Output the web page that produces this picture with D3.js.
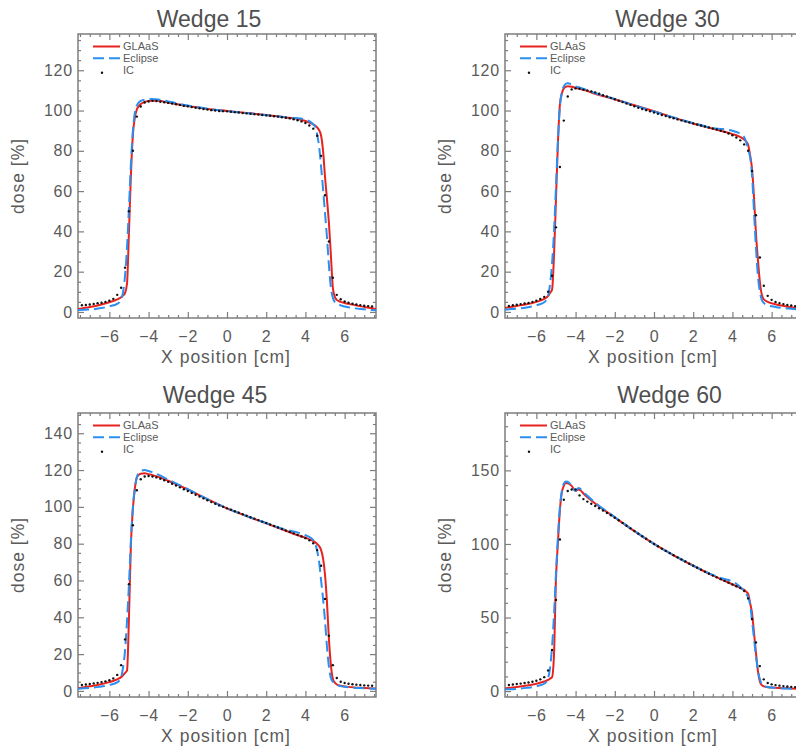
<!DOCTYPE html>
<html><head><meta charset="utf-8">
<script src="https://cdn.jsdelivr.net/npm/d3@7"></script>
<style>body{margin:0;background:#fff}svg{display:block}</style>
</head><body><svg id="c" width="796" height="749"></svg>
<script>
// ---- data ----
const curveX = [-7.6,-7,-6.5,-6,-5.6,-5.4,-5.3,-5.2,-5.1,-5.0,-4.9,-4.8,-4.7,-4.6,-4.5,-4.4,-4.2,-4.0,-3.85,-3.5,-3,-2,-1,0,1,2,3,3.5,4,4.3,4.5,4.6,4.7,4.8,4.9,5.0,5.1,5.2,5.3,5.4,5.5,5.6,5.8,6.2,7,7.6];

const glaas15   = [1.5,2.5,3.5,4.8,6.2,7.3,8.2,9.5,14,40,68,88,96.5,100.5,102.2,103.2,104.3,104.8,104.9,104.8,104,102.2,100.8,99.8,98.8,97.8,96.6,96,94.8,93.6,92.5,91.6,90.2,87.5,80,67,56,44,28,12,7.5,6,5,4,2.5,1.5];
const eclipse15 = [1,1.2,1.8,2.8,4,6,10,18,32,52,74,90,99,102.5,104,104.8,105.3,105.6,105.7,105.5,104.5,102.5,100.9,99.7,98.7,97.7,96.7,96.3,95.5,94,92,88,82,72,61,49,37,23,12,7,5,4.2,3.3,2.3,1.3,0.8];

const glaas30   = [2,3,3.8,5,6.5,8,9.5,11,28,56,84,103,108.5,111,111.8,112,111.8,111.3,110.9,110,108.3,105.6,102.6,99.7,96.5,93.6,91,89.7,88.3,87.3,86.3,85.6,84.6,83,78,71,57,39,26,15,8.5,6.3,5,3.8,2.3,1.5];
const eclipse30 = [1.2,1.6,2.2,3.3,4.8,8,14,24,40,62,85,102,109,112,113.3,113.6,113,112,111.6,110.5,108.7,105.7,102.6,99.5,96.6,93.8,91.3,90.8,90,89,88,86.8,84.5,81,77,68,50,32,18,10,6,4.5,3.3,2.5,1.6,1.1];

const glaas45   = [1.4,2.5,3.5,4.8,6.3,7.5,8.5,9.8,11,40,80,99,110,116,117.5,118,118.2,117.8,117.4,116.3,114.2,109.5,104.2,99.2,95,91,87,85,83.2,82,80.8,79.8,78.6,76.5,72,63,48,28,14,6.5,4.5,3.5,2.8,2.2,1.6,1.3];
const eclipse45 = [1.2,1.6,2.2,3.2,4.6,7.5,13,22,38,58,82,100,110,116,118.5,119.5,120,119.5,119,117.5,114.8,109.6,104.2,99.2,95,91.2,87.6,86.4,84.6,83,80,76,70,60,50,38,24,13,7,5,3.8,3.2,2.6,2,1.5,1.2];

const glaas60   = [1.8,2.8,3.8,5,6.5,7.6,8.5,9.5,25,76,101,123,135,139.5,141.5,141.3,139.5,136,137,133,127.5,118,108.7,100,92.3,85.2,78.6,75.6,72.5,70.8,69.5,68.8,67.6,66,60,53,40,26,14,6.5,4,3.2,2.7,2.3,1.8,1.5];
const eclipse60 = [1.2,1.5,2.2,3.3,5,9,16,30,52,80,105,125,136,141,142.5,142.3,139.5,136,138,134,128,118.3,108.8,100,92.4,85.3,79,76.5,74.5,72,69.5,68,66,64,59,48,36,24,14,8,4.5,3.5,2.8,2.2,1.6,1.3];

const icX = [-7.4,-7.2,-7.0,-6.8,-6.6,-6.4,-6.2,-6.0,-5.8,-5.6,-5.4,-5.2,-5.0,-4.8,-4.6,-4.4,-4.2,-4.0,-3.8,-3.6,-3.4,-3.2,-3.0,-2.8,-2.6,-2.4,-2.2,-2.0,-1.8,-1.6,-1.4,-1.2,-1.0,-0.8,-0.6,-0.4,-0.2,0,0.2,0.4,0.6,0.8,1.0,1.2,1.4,1.6,1.8,2.0,2.2,2.4,2.6,2.8,3.0,3.2,3.4,3.6,3.8,4.0,4.2,4.4,4.6,4.8,5.0,5.2,5.4,5.6,5.8,6.0,6.2,6.4,6.6,6.8,7.0,7.2,7.4];

const ic15 = [3.3,3.5,3.7,4.0,4.3,4.6,5.0,5.6,6.5,8.5, 12,22,50,80,97,102,104,104.5,104.8,104.7, 104.4,104.1,103.8,103.5,103.1,102.8,102.4,102.1,101.7,101.4, 101.1,100.8,100.5,100.2,100,99.8,99.7,99.6,99.4,99.2, 99.0,98.8,98.6,98.4,98.2,98.0,97.8,97.6,97.4,97.2, 97.0,96.7,96.4,96.1,95.7,95.2,94.6,93.8,92.6,91, 87.5,77.5,58,35,17,8.5,6.3,5.2,4.6,4.1, 3.7,3.4,3.1,2.9,2.7];
const ic30 = [3.0,3.3,3.6,3.9,4.2,4.5,5.0,5.6,6.4,7.5, 10,18,42,72,95,107,110.5,111,110.8,110.4, 110,109.5,109,108.3,107.6,107,106.3,105.6,104.9,104.2, 103.5,102.8,102.1,101.4,100.8,100.2,99.6,99,98.4,97.8, 97.3,96.7,96.2,95.6,95.1,94.6,94.1,93.6,93.1,92.6, 92.1,91.6,91.1,90.6,90.0,89.4,88.6,87.7,86.6,85.2, 83.2,80,70,48,27,13,8,6,5,4.4, 3.9,3.5,3.2,2.9,2.7];
const ic45 = [3.2,3.5,3.8,4.1,4.4,4.8,5.2,5.8,6.8,8.7, 14,28,58,90,109,115,116.5,116.8,116.5,116, 115.3,114.5,113.6,112.6,111.6,110.6,109.6,108.6,107.6,106.6, 105.6,104.6,103.6,102.6,101.7,100.8,100,99.2,98.4,97.6, 96.8,96,95.2,94.4,93.6,92.8,92,91.2,90.4,89.6, 88.8,88,87.2,86.4,85.6,84.8,83.9,83,81.8,80.2, 76.5,68,50,30,14,7,5,4.3,3.9,3.6, 3.4,3.2,3.0,2.9,2.8];
const ic60 = [4.2,4.5,4.8,5.1,5.5,5.9,6.4,7.0,8.0,9.5, 14,28,62,103,130,136,137,137,133,130.5, 128.8,127.3,125.8,124.3,122.7,121.1,119.5,117.8,116.1,114.3, 112.4,110.6,108.8,107,105.2,103.5,101.7,100,98.4,96.8, 95.3,93.8,92.3,90.9,89.5,88.1,86.6,85.2,83.8,82.5, 81.2,79.8,78.5,77.3,76.1,74.9,73.7,72.5,71.3,70, 68,63,49,33,17,8,5.5,4.6,4.1,3.7, 3.4,3.1,2.9,2.7,2.6];

const titles = ["Wedge 15","Wedge 30","Wedge 45","Wedge 60"];
const xDomain = [-7.6, 7.6];
const xTicks = [-6,-4,-2,0,2,4,6];
const yTicksA = [0,20,40,60,80,100,120];
const yTicksB = [0,20,40,60,80,100,120,140];
const yTicksC = [0,50,100,150];
const seriesNames = ["GLAaS","Eclipse","IC"];

// ---- layout ----
const W = 298, H = 284;
const panels = [
  {title:titles[0], g:glaas15, e:eclipse15, ic:ic15, yDom:[-3,138],   yTicks:yTicksA, yMinor:5,  left:78,  top:34,  tx:209,   ty:27},
  {title:titles[1], g:glaas30, e:eclipse30, ic:ic30, yDom:[-3,138],   yTicks:yTicksA, yMinor:5,  left:505, top:34,  tx:667.5, ty:27},
  {title:titles[2], g:glaas45, e:eclipse45, ic:ic45, yDom:[-3.3,151], yTicks:yTicksB, yMinor:5,  left:78,  top:413, tx:215,   ty:403},
  {title:titles[3], g:glaas60, e:eclipse60, ic:ic60, yDom:[-4,189],   yTicks:yTicksC, yMinor:10, left:505, top:413, tx:669.5, ty:403}
];

const RED = "#e8231f", BLUE = "#2a8ff0", AX = "#7d7d7d", TXT = "#5a5a5a";
const FONT = "'Liberation Sans', Arial, Helvetica, sans-serif";
const svg = d3.select("#c");
const fmt = d => (d < 0 ? "\u2212" + Math.abs(d) : String(d));

panels.forEach((p, i) => {
  const x = d3.scaleLinear().domain(xDomain).range([p.left, p.left + W]);
  const y = d3.scaleLinear().domain(p.yDom).range([p.top + H, p.top]);
  const g = svg.append("g");

  const clipId = "clip" + i;
  svg.append("clipPath").attr("id", clipId).append("rect")
    .attr("x", p.left).attr("y", p.top).attr("width", W).attr("height", H);

  // title
  g.append("text").attr("x", p.tx).attr("y", p.ty).attr("text-anchor", "middle")
    .attr("font-family", FONT).attr("font-size", 23).attr("fill", "#4f4f4f").text(p.title);

  // minor tick values
  const xMinor = d3.range(-7.5, 7.51, 0.5).filter(v => Math.abs(v % 2) > 1e-6);
  const yMinor = d3.range(p.yMinor, p.yDom[1], p.yMinor).filter(v => !p.yTicks.includes(v));

  const styleAxis = sel => {
    sel.select(".domain").remove();
    sel.selectAll(".tick line").attr("stroke", AX).attr("stroke-width", 1.2);
    sel.selectAll("text").attr("font-family", FONT).attr("font-size", 16)
      .attr("fill", TXT).attr("letter-spacing", "0.8px");
  };

  const bottom = p.top + H;
  g.append("g").attr("transform", `translate(0,${bottom})`)
    .call(d3.axisBottom(x).tickValues(xTicks).tickSize(-6).tickPadding(13).tickFormat(fmt)).call(styleAxis);
  g.append("g").attr("transform", `translate(0,${bottom})`)
    .call(d3.axisBottom(x).tickValues(xMinor).tickSize(-3).tickFormat("")).call(styleAxis);
  g.append("g").attr("transform", `translate(0,${p.top})`)
    .call(d3.axisTop(x).tickValues(xTicks).tickSize(-6).tickFormat("")).call(styleAxis);
  g.append("g").attr("transform", `translate(0,${p.top})`)
    .call(d3.axisTop(x).tickValues(xMinor).tickSize(-3).tickFormat("")).call(styleAxis);

  g.append("g").attr("transform", `translate(${p.left},0)`)
    .call(d3.axisLeft(y).tickValues(p.yTicks).tickSize(-6).tickPadding(5).tickFormat(fmt)).call(styleAxis);
  g.append("g").attr("transform", `translate(${p.left},0)`)
    .call(d3.axisLeft(y).tickValues(yMinor).tickSize(-3).tickFormat("")).call(styleAxis);
  g.append("g").attr("transform", `translate(${p.left + W},0)`)
    .call(d3.axisRight(y).tickValues(p.yTicks).tickSize(-6).tickFormat("")).call(styleAxis);
  g.append("g").attr("transform", `translate(${p.left + W},0)`)
    .call(d3.axisRight(y).tickValues(yMinor).tickSize(-3).tickFormat("")).call(styleAxis);

  // frame
  g.append("rect").attr("x", p.left).attr("y", p.top).attr("width", W).attr("height", H)
    .attr("fill", "none").attr("stroke", AX).attr("stroke-width", 1.5);

  // axis titles
  g.append("text").attr("x", p.left + W / 2 - 1).attr("y", bottom + 45).attr("text-anchor", "middle")
    .attr("font-family", FONT).attr("font-size", 17.5).attr("letter-spacing", "1px").attr("fill", TXT)
    .text("X position [cm]");
  g.append("text").attr("transform", `translate(${p.left - 54},${p.top + H / 2}) rotate(-90)`)
    .attr("text-anchor", "middle").attr("font-family", FONT).attr("font-size", 17.5)
    .attr("letter-spacing", "1px").attr("fill", TXT).text("dose [%]");

  // data
  const plot = g.append("g").attr("clip-path", `url(#${clipId})`);
  const line = d3.line().x((d, k) => x(curveX[k])).y(d => y(d)).curve(d3.curveMonotoneX);
  plot.append("path").datum(p.g).attr("d", line).attr("fill", "none")
    .attr("stroke", RED).attr("stroke-width", 2);
  plot.append("path").datum(p.e).attr("d", line).attr("fill", "none")
    .attr("stroke", BLUE).attr("stroke-width", 2).attr("stroke-dasharray", "11,5");
  plot.selectAll("circle.ic").data(p.ic).join("circle").attr("class", "ic")
    .attr("cx", (d, k) => x(icX[k])).attr("cy", d => y(d)).attr("r", 1.2).attr("fill", "#111");

  // legend
  const lx = p.left, ly = p.top;
  g.append("line").attr("x1", lx + 15).attr("x2", lx + 42).attr("y1", ly + 12.5).attr("y2", ly + 12.5)
    .attr("stroke", RED).attr("stroke-width", 2);
  g.append("line").attr("x1", lx + 15).attr("x2", lx + 42).attr("y1", ly + 24.3).attr("y2", ly + 24.3)
    .attr("stroke", BLUE).attr("stroke-width", 2).attr("stroke-dasharray", "11,5");
  g.append("circle").attr("cx", lx + 24).attr("cy", ly + 38.7).attr("r", 1.2).attr("fill", "#111");
  [16, 28, 39.5].forEach((dy, k) => {
    g.append("text").attr("x", lx + 45).attr("y", ly + dy).attr("font-family", FONT)
      .attr("font-size", 11).attr("fill", TXT).text(seriesNames[k]);
  });
});
</script>
</body></html>
